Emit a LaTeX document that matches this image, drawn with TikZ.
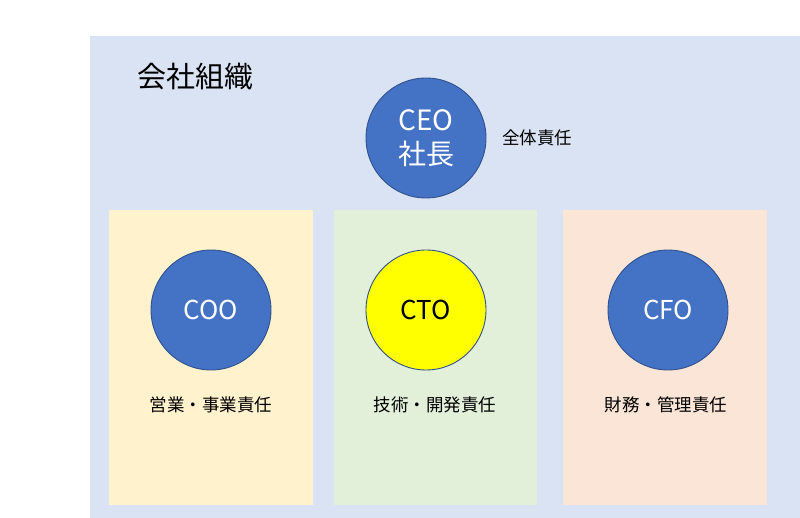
\documentclass[tikz,border=0pt]{standalone}
\usepackage{fontspec}
\setmainfont{Noto Sans CJK JP}
\definecolor{bgblue}{HTML}{DAE3F3}
\definecolor{boxyellow}{HTML}{FFF2CC}
\definecolor{boxgreen}{HTML}{E2F0D9}
\definecolor{boxorange}{HTML}{FBE5D6}
\definecolor{circblue}{HTML}{4472C4}
\definecolor{circedge}{HTML}{2F528F}
\definecolor{ctoyellow}{HTML}{FFFF00}
\begin{document}
\begin{tikzpicture}[x=1pt,y=-1pt,
  role/.style={circle,draw=circedge,line width=0.9pt,fill=circblue,minimum size=120pt,inner sep=0pt,text=white,font=\fontsize{26}{28}\selectfont},
  duty/.style={font=\fontsize{17.5}{20}\selectfont,text=black,inner sep=0pt}]
\useasboundingbox (0,0) rectangle (800,518);
\fill[white] (0,0) rectangle (800,518);
\fill[bgblue] (90,36) rectangle (800,518);
\node[font=\fontsize{29}{32}\selectfont,anchor=west,inner sep=0pt] (title) at (137,77) {会社組織};
\fill[boxyellow] (109,210) rectangle (313,505);
\fill[boxgreen] (334,210) rectangle (537,505);
\fill[boxorange] (563,210) rectangle (767,505);
\node[role] (ceo) at (426,138) {};
\node[text=white,font=\fontsize{28}{30}\selectfont,inner sep=0pt] (ceoname) at (426,120) {CEO};
\node[text=white,font=\fontsize{28}{30}\selectfont,inner sep=0pt] (ceojp) at (426,154) {社長};
\node[duty,anchor=west] (ceoduty) at (502,138) {全体責任};
\node[role] (coo) at (211,310) {COO};
\node[role,fill=ctoyellow,text=black] (cto) at (426,310) {CTO};
\node[role] (cfo) at (668,310) {CFO};
\node[duty] (cooduty) at (211,405) {営業・事業責任};
\node[duty] (ctoduty) at (435,405) {技術・開発責任};
\node[duty] (cfoduty) at (666,405) {財務・管理責任};
\end{tikzpicture}
\end{document}
